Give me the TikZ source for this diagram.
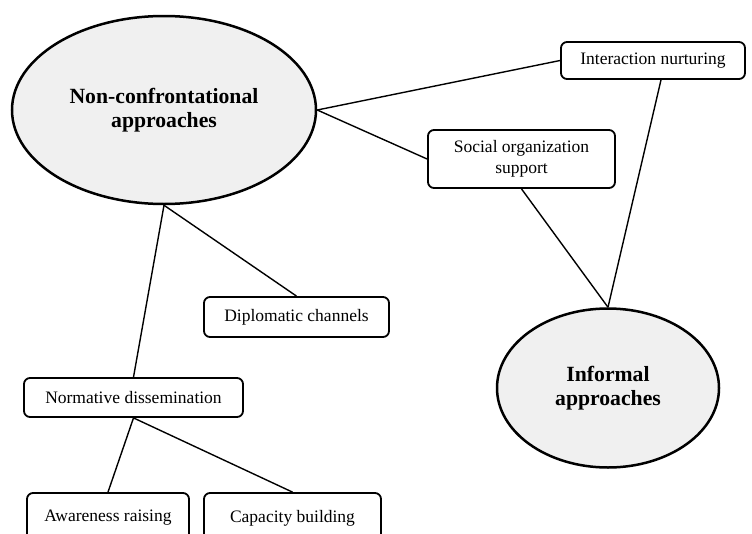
\documentclass[tikz,border=0pt]{standalone}
\usepackage{fontspec}
\setmainfont{Liberation Serif}
\usetikzlibrary{shapes.geometric}
\definecolor{ovalfill}{HTML}{F0F0F0}
\tikzset{
  oval/.style={ellipse, draw=black, line width=2.5pt, fill=ovalfill, inner sep=0pt,
    align=center, font=\fontsize{21.7}{24.5}\selectfont\bfseries},
  tagbox/.style={rectangle, rounded corners=6pt, draw=black, line width=1.8pt, fill=white,
    inner sep=0pt, align=center, font=\fontsize{17.5}{20.5}\selectfont},
  link/.style={draw=black, line width=1.4pt}
}
\begin{document}
\begin{tikzpicture}[x=1pt, y=-1pt]
\useasboundingbox (0,0) rectangle (752,533);
\clip (0,0) rectangle (752,533);

% main concepts
\node[oval, minimum width=304pt, minimum height=188pt] (noncon) at (164,110)
  {Non-confrontational\\approaches};
\node[oval, minimum width=222pt, minimum height=159pt] (informal) at (608,388)
  {Informal\\approaches};

% sub-topics
\node[tagbox, minimum width=184pt, minimum height=37pt] (inter) at (653,60.5) {Interaction nurturing};
\node[tagbox, minimum width=187pt, minimum height=58pt] (social) at (521.5,159) {Social organization\\support};
\node[tagbox, minimum width=185pt, minimum height=40pt] (diplo) at (296.5,317) {Diplomatic channels};
\node[tagbox, minimum width=219pt, minimum height=39pt] (norm) at (133.5,397.5) {Normative dissemination};
\node[tagbox, minimum width=162pt, minimum height=50pt] (aware) at (108,518) {Awareness raising};
\node[tagbox, minimum width=177pt, minimum height=50pt] (capac) at (292.5,518) {Capacity building};

% connections
\path[link] (noncon.east) -- (inter.west);
\path[link] (noncon.east) -- (social.west);
\path[link] (noncon.south) -- (diplo.north);
\path[link] (noncon.south) -- (norm.north);
\path[link] (norm.south) -- (aware.north);
\path[link] (norm.south) -- (capac.north);
\path[link] (social.south) -- (informal.north);
\path[link] ([xshift=8pt]inter.south) -- (informal.north);
\end{tikzpicture}
\end{document}
